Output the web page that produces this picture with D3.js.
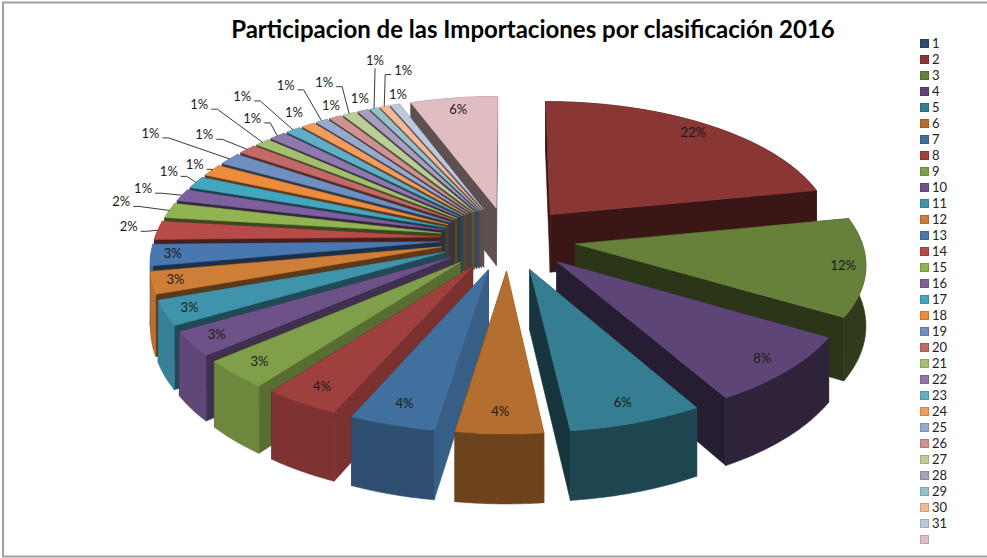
<!DOCTYPE html>
<html>
<head>
<meta charset="utf-8">
<script src="https://cdnjs.cloudflare.com/ajax/libs/d3/7.8.5/d3.min.js"></script>
<style>html,body{margin:0;padding:0;background:#fff;overflow:hidden}</style>
</head>
<body>
<svg id="chart" width="987" height="558"></svg>
<script>
const categories = ["1","2","3","4","5","6","7","8","9","10","11","12","13","14","15","16","17","18","19","20","21","22","23","24","25","26","27","28","29","30","31",""];
const values = [0,21.9,11.65,8.2,6.48,4.2,4.15,3.7,3.4,2.9,2.95,2.62,2.55,2.2,1.8,1.44,1.44,1.44,1.47,1.17,0.94,1.06,0.97,0.86,0.78,0.78,0.86,0.69,0.56,0.56,0.61,5.67];
const colors = ["#2C4D75","#893634","#67803A","#5D4677","#357D91","#B46E2F","#41709F","#A0403E","#809F48","#6D5288","#3F94AC","#CF7E37","#4977B0","#B64B48","#92B351","#7F609E","#43A5BE","#EC8C3C","#6E8FBF","#C36A68","#A5BF6E","#8F78AE","#62AEC7","#F09D5E","#96AAD0","#CF9291","#BACE95","#AA9DBE","#97C0CF","#F6B896","#BDC8DC","#E0BDC0"];
const titleText = "Participacion de las Importaciones por clasificación 2016";
// Callout layout for the small slices: index into the series, offset of the text from the rim, whether a leader is drawn.
const calloutSeries = [13,14,15,16,17,18,19,20,21,22,23,24,25,26,27,28,29,30];
const calloutDx = [-29,-48,-39,-27,-17,-79,-43,-63,-25,-51,-14,-36,-4,-25,-3,1,19,3];
const calloutDy = [-3,-8,-6,-10,-5,-25,-14,-37,-17,-33,-12,-35,-11,-31,-12,-47,-36,-10];
const calloutLeader = [1,1,1,1,1,1,1,1,1,1,0,1,0,1,0,1,1,0];

const cx = 508, cy = 238.5, R = 285.5, explode = 68, tilt = 0.466, depth = 2250, wallH = 59;
const labelK = 0.88, labelKSide = 0.045;
const svg = d3.select("#chart");
const FONT = "Lato, 'Open Sans', sans-serif";

svg.append("rect").attr("width",987).attr("height",558).attr("fill","#fff");
svg.append("path").attr("d","M987,2.5H3V556.5H987").attr("fill","none").attr("stroke","#a0a0a0").attr("stroke-width",2);

const pie = d3.pie().sort(null).value(d => d.v).startAngle(0).endAngle(2*Math.PI);
const arcs = pie(values.map((v,i)=>({v,i}))).filter(a => a.data.v > 0);

function project(X, Y, z){
  const s = depth/(depth - Y);
  return [cx + X*s, cy + tilt*Y*s + z*s];
}
function point(a, ang, r, z){
  const m = (a.startAngle + a.endAngle)/2;
  const X = explode*Math.sin(m) + r*Math.sin(ang);
  const Y = -explode*Math.cos(m) - r*Math.cos(ang);
  return project(X, Y, z);
}
const line = d3.line();
const arcShade = d3.scaleLinear().domain([0,90,135,180,220,270,360]).range([.42,.45,.5,.6,.85,.9,.6]);
const startShade = d3.scaleLinear().domain([0,97,125,150,170,250,360]).range([.42,.85,.7,.5,.4,.42,.42]);
function shade(c,f){
  const q = d3.rgb(c);
  return d3.rgb(q.r*f,q.g*f,q.b*f).formatHex();
}
function deg(x){ return (x*180/Math.PI)%360; }

const order = arcs.slice().sort((p,q)=> -Math.cos((p.startAngle+p.endAngle)/2) - -Math.cos((q.startAngle+q.endAngle)/2));
const gPie = svg.append("g");

order.forEach(a=>{
  const col = colors[a.data.i];
  const steps = d3.range(0,25).map(k=>a.startAngle+(a.endAngle-a.startAngle)*k/24);
  const top = steps.map(t=>point(a,t,R,0));
  const bot = steps.map(t=>point(a,t,R,wallH));
  const m = (a.startAngle+a.endAngle)/2;
  const walls = [
    {d:Math.cos(a.startAngle), pts:[point(a,0,0,0),point(a,a.startAngle,R,0),point(a,a.startAngle,R,wallH),point(a,0,0,wallH)], f:startShade((deg(a.startAngle)+270)%360)},
    {d:Math.cos(a.endAngle), pts:[point(a,0,0,0),point(a,a.endAngle,R,0),point(a,a.endAngle,R,wallH),point(a,0,0,wallH)], f:.42},
    {d:Math.cos(m)*1.0+(-Math.cos(m)>0?-0.2:0), pts:top.concat(bot.slice().reverse()), f:arcShade(deg(m))}
  ];
  walls.sort((p,q)=>q.d-p.d).forEach(w=>{
    const c = shade(col,w.f);
    gPie.append("path").attr("d",line(w.pts)+"Z").attr("fill",c).attr("stroke",c).attr("stroke-width",.6);
  });
  gPie.append("path").attr("d",line([point(a,0,0,0)].concat(top))+"Z").attr("fill",col).attr("stroke",col).attr("stroke-width",.5);
});

// Percent labels
const total = d3.sum(values);
const pct = d3.format(".0%");
const calloutIdx = new Map(calloutSeries.map((s,i)=>[s,i]));
const gLab = svg.append("g").attr("font-family",FONT).attr("font-size",13).attr("fill","#1a1a1a").attr("text-anchor","middle");
arcs.forEach(a=>{
  const i = a.data.i, m=(a.startAngle+a.endAngle)/2;
  const txt = pct(a.data.v/total);
  let p;
  if(calloutIdx.has(i)){
    const c = calloutIdx.get(i);
    const rim = point(a,m,R,0);
    p = [rim[0]+calloutDx[c], rim[1]+calloutDy[c]];
    if(calloutLeader[c]){
      const side = Math.abs(calloutDx[c])<5 ? 0 : (calloutDx[c]<0 ? 1 : -1);
      const pts = side===0 ? [rim,[p[0],p[1]+7]]
        : [rim,[p[0]+side*18,p[1]+4],[p[0]+side*12,p[1]+4]];
      gLab.append("path").attr("d",line(pts)).attr("fill","none").attr("stroke","#3a3a3a").attr("stroke-width",1);
    }
  } else {
    p = point(a,m,R*(labelK+labelKSide*Math.sin(m)*Math.sin(m)),0);
  }
  gLab.append("text").attr("x",p[0]).attr("y",p[1]+4).text(txt);
});

// Title
svg.append("text").attr("x",533).attr("y",38).attr("text-anchor","middle")
  .attr("font-family",FONT).attr("font-weight",700).attr("font-size",24).attr("fill","#000").text(titleText);

// Legend
const legendY = d3.scaleLinear().domain([0,31]).range([43,539]);
const gLeg = svg.append("g").attr("font-family",FONT).attr("font-size",13).attr("fill","#222");
categories.forEach((c,i)=>{
  const y = legendY(i);
  gLeg.append("rect").attr("x",920.5).attr("y",y-3.5).attr("width",8).attr("height",8)
    .attr("fill",colors[i]).attr("stroke",shade(colors[i],.85)).attr("stroke-width",1);
  gLeg.append("text").attr("x",932).attr("y",y+5).text(c);
});
</script>
</body>
</html>
